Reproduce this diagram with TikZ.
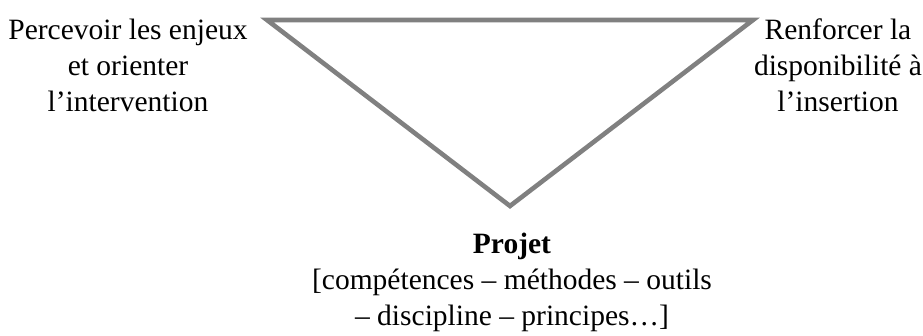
\documentclass[tikz,border=0pt]{standalone}
\usepackage{fontspec}
\setmainfont{Liberation Serif}
\definecolor{edgegray}{HTML}{808080}
\begin{document}
\begin{tikzpicture}[x=1pt,y=-1pt,
  caption/.style={font=\fontsize{29.5}{36}\selectfont, align=center, inner sep=0pt, anchor=base},
  frame/.style={draw=edgegray, line width=4.6pt, line join=miter}]
\useasboundingbox (0,0) rectangle (923,335);
% inverted triangle
\coordinate (tl) at (267,20);
\coordinate (tr) at (753,20);
\coordinate (bt) at (510,206);
\draw[frame] (tl) -- (tr) -- (bt) -- cycle;
% captions at the three corners (base = baseline of the last line)
\node[caption] (left) at (128,111) {Percevoir les enjeux\\et orienter\\l’intervention};
\node[caption] (right) at (838,111) {Renforcer la\\disponibilité à\\l’insertion};
\node[caption, font=\fontsize{29.5}{36}\selectfont\bfseries] (projet) at (512,253) {Projet};
\node[caption] (tools) at (512,325) {[compétences – méthodes – outils\\– discipline – principes…]};
\end{tikzpicture}
\end{document}
